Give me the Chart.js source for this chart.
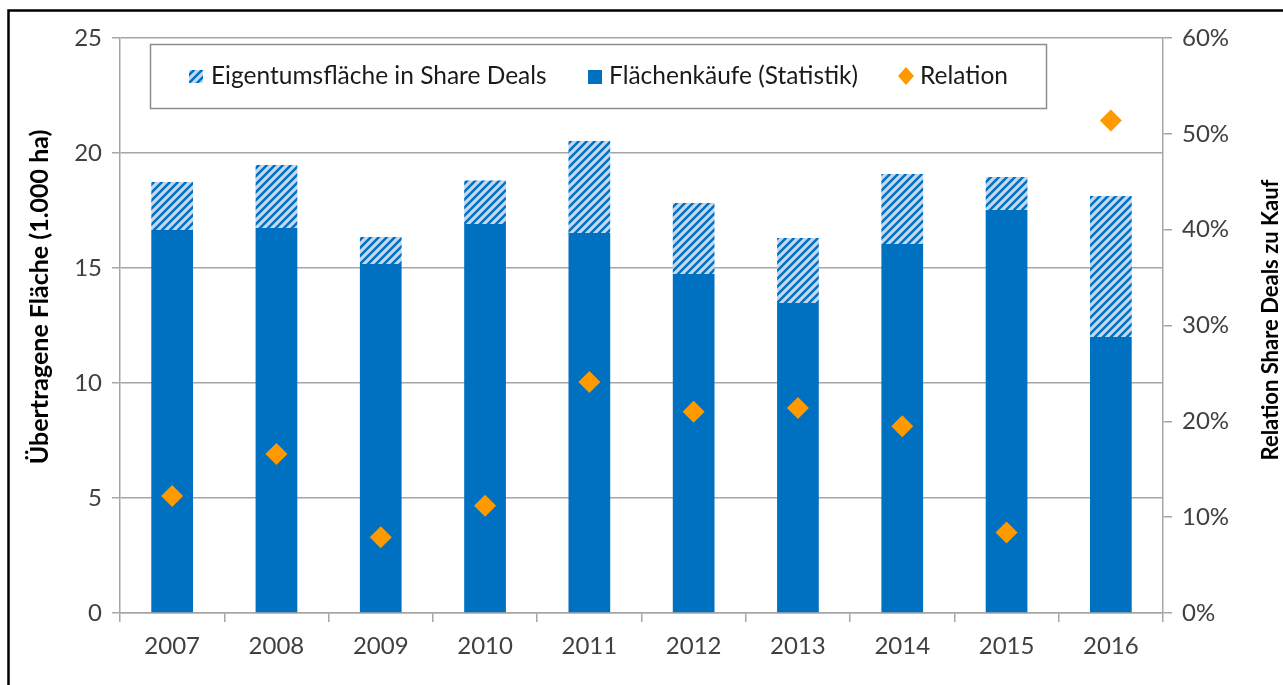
<!DOCTYPE html>
<html>
<head>
<meta charset="utf-8">
<script src="https://cdn.jsdelivr.net/npm/chart.js@4"></script>
<style>
  html, body { margin: 0; padding: 0; background: #fff; }
  #wrap { width: 1283px; height: 685px; }
</style>
</head>
<body>
<div id="wrap"><canvas id="chart"></canvas></div>
<script>
// data
var years = ['2007', '2008', '2009', '2010', '2011', '2012', '2013', '2014', '2015', '2016'];
var flaechenkaeufe = [16.65, 16.74, 15.17, 16.91, 16.52, 14.74, 13.48, 16.04, 17.52, 12.0];
var shareDeals = [2.09, 2.74, 1.18, 1.89, 4.0, 3.09, 2.82, 3.05, 1.44, 6.13];
var relation = [12.2, 16.6, 7.9, 11.2, 24.1, 21.0, 21.4, 19.5, 8.4, 51.4];
var leftTicks = [0, 5, 10, 15, 20, 25];
var rightTicks = [0, 10, 20, 30, 40, 50, 60];

var blue = '#0070c0';
var lightBlue = '#c3d8ee';
var orange = '#ff9900';
var gridColor = '#a6a6a6';
var textColor = '#404040';
var fontFamily = 'Lato, "Open Sans", sans-serif';

// hatch pattern for the share deal part
function makeHatch(ctx) {
  var c = document.createElement('canvas');
  c.width = 8; c.height = 8;
  var p = c.getContext('2d');
  p.fillStyle = lightBlue;
  p.fillRect(0, 0, 8, 8);
  p.strokeStyle = blue;
  p.lineWidth = 2.4;
  p.beginPath();
  p.moveTo(-2, 10); p.lineTo(10, -2);
  p.moveTo(-2, 2); p.lineTo(2, -2);
  p.moveTo(6, 10); p.lineTo(10, 6);
  p.stroke();
  return ctx.createPattern(c, 'repeat');
}

var canvas = document.getElementById('chart');
var hatch = makeHatch(canvas.getContext('2d'));

function verticalTitle(ctx, text, x, y, size) {
  ctx.save();
  ctx.translate(x, y);
  ctx.rotate(-Math.PI / 2);
  ctx.textAlign = 'center';
  ctx.textBaseline = 'middle';
  ctx.font = 'bold ' + size + 'px ' + fontFamily;
  ctx.fillStyle = '#000';
  ctx.fillText(text, 0, 0);
  ctx.restore();
}

// frame, custom legend and axis titles
var decorations = {
  id: 'decorations',
  afterDraw: function(chart) {
    var ctx = chart.ctx;
    var area = chart.chartArea;
    ctx.save();
    // outer black frame
    ctx.strokeStyle = '#000';
    ctx.lineWidth = 2.5;
    ctx.strokeRect(8.5, 10.5, 1300, 700);

    // legend box
    var lx = area.left + 30, ly = area.top + 6, lw = 896, lh = 64;
    ctx.fillStyle = '#fff';
    ctx.fillRect(lx, ly, lw, lh);
    ctx.strokeStyle = '#8c8c8c';
    ctx.lineWidth = 1.5;
    ctx.strokeRect(lx + 0.5, ly + 0.5, lw, lh);

    var cy = ly + lh / 2;
    ctx.font = '24.5px ' + fontFamily;
    ctx.textBaseline = 'middle';
    ctx.textAlign = 'left';

    // item 1: hatched
    ctx.fillStyle = hatch;
    ctx.fillRect(lx + 39, cy - 6, 14, 13);
    ctx.fillStyle = '#1a1a1a';
    ctx.fillText('Eigentumsfläche in Share Deals', lx + 61, cy);

    // item 2: solid
    ctx.fillStyle = blue;
    ctx.fillRect(lx + 438, cy - 6, 14, 14);
    ctx.fillStyle = '#1a1a1a';
    ctx.fillText('Flächenkäufe (Statistik)', lx + 459, cy);

    // item 3: diamond
    ctx.fillStyle = orange;
    ctx.beginPath();
    ctx.moveTo(lx + 756, cy - 9);
    ctx.lineTo(lx + 764, cy);
    ctx.lineTo(lx + 756, cy + 9);
    ctx.lineTo(lx + 748, cy);
    ctx.closePath();
    ctx.fill();
    ctx.fillStyle = '#1a1a1a';
    ctx.fillText('Relation', lx + 770, cy);
    ctx.restore();

    // axis titles, both reading bottom to top
    verticalTitle(ctx, 'Übertragene Fläche (1.000 ha)', 40, 297, 25);
    verticalTitle(ctx, 'Relation Share Deals zu Kauf', 1271, 320, 22);
  }
};

var chart = new Chart(canvas, {
  type: 'bar',
  data: {
    labels: years,
    datasets: [{
      label: 'Relation',
      type: 'line',
      data: relation,
      yAxisID: 'y1',
      showLine: false,
      pointStyle: 'rectRot',
      pointRadius: 11,
      pointHoverRadius: 11,
      backgroundColor: orange,
      borderColor: orange,
      borderWidth: 0,
      order: 0
    }, {
      label: 'Flächenkäufe (Statistik)',
      data: flaechenkaeufe,
      backgroundColor: blue,
      stack: 's',
      order: 1
    }, {
      label: 'Eigentumsfläche in Share Deals',
      data: shareDeals,
      backgroundColor: hatch,
      stack: 's',
      order: 1
    }]
  },
  options: {
    responsive: true,
    maintainAspectRatio: false,
    animation: false,
    layout: { padding: { top: 38, left: 0, right: 0, bottom: 0 } },
    plugins: {
      legend: { display: false },
      tooltip: { enabled: false }
    },
    datasets: {
      bar: { barPercentage: 0.4, categoryPercentage: 1.0 }
    },
    scales: {
      x: {
        stacked: true,
        offset: true,
        grid: { offset: true, drawOnChartArea: false, drawTicks: true, tickLength: 9, color: gridColor, lineWidth: 1.5 },
        border: { color: gridColor, width: 1.5 },
        ticks: { color: textColor, font: { family: fontFamily, size: 24 }, padding: 10 },
        afterFit: function(s) { s.height = 72; }
      },
      y: {
        stacked: true,
        position: 'left',
        min: 0,
        max: 25,
        afterBuildTicks: function(s) { s.ticks = leftTicks.map(function(v) { return { value: v }; }); },
        grid: { color: gridColor, lineWidth: 1.5, tickLength: 8 },
        border: { color: gridColor, width: 1.5 },
        ticks: { color: textColor, font: { family: fontFamily, size: 24 }, padding: 10 },
        afterFit: function(s) { s.width = 120; }
      },
      y1: {
        position: 'right',
        min: 0,
        max: 60,
        afterBuildTicks: function(s) { s.ticks = rightTicks.map(function(v) { return { value: v }; }); },
        grid: { drawOnChartArea: false, color: gridColor, lineWidth: 1.5, tickLength: 9 },
        border: { color: gridColor, width: 1.5 },
        ticks: {
          color: textColor,
          font: { family: fontFamily, size: 24 },
          padding: 10,
          callback: function(v) { return v + '%'; }
        },
        afterFit: function(s) { s.width = 120; }
      }
    }
  },
  plugins: [decorations]
});
</script>
</body>
</html>
